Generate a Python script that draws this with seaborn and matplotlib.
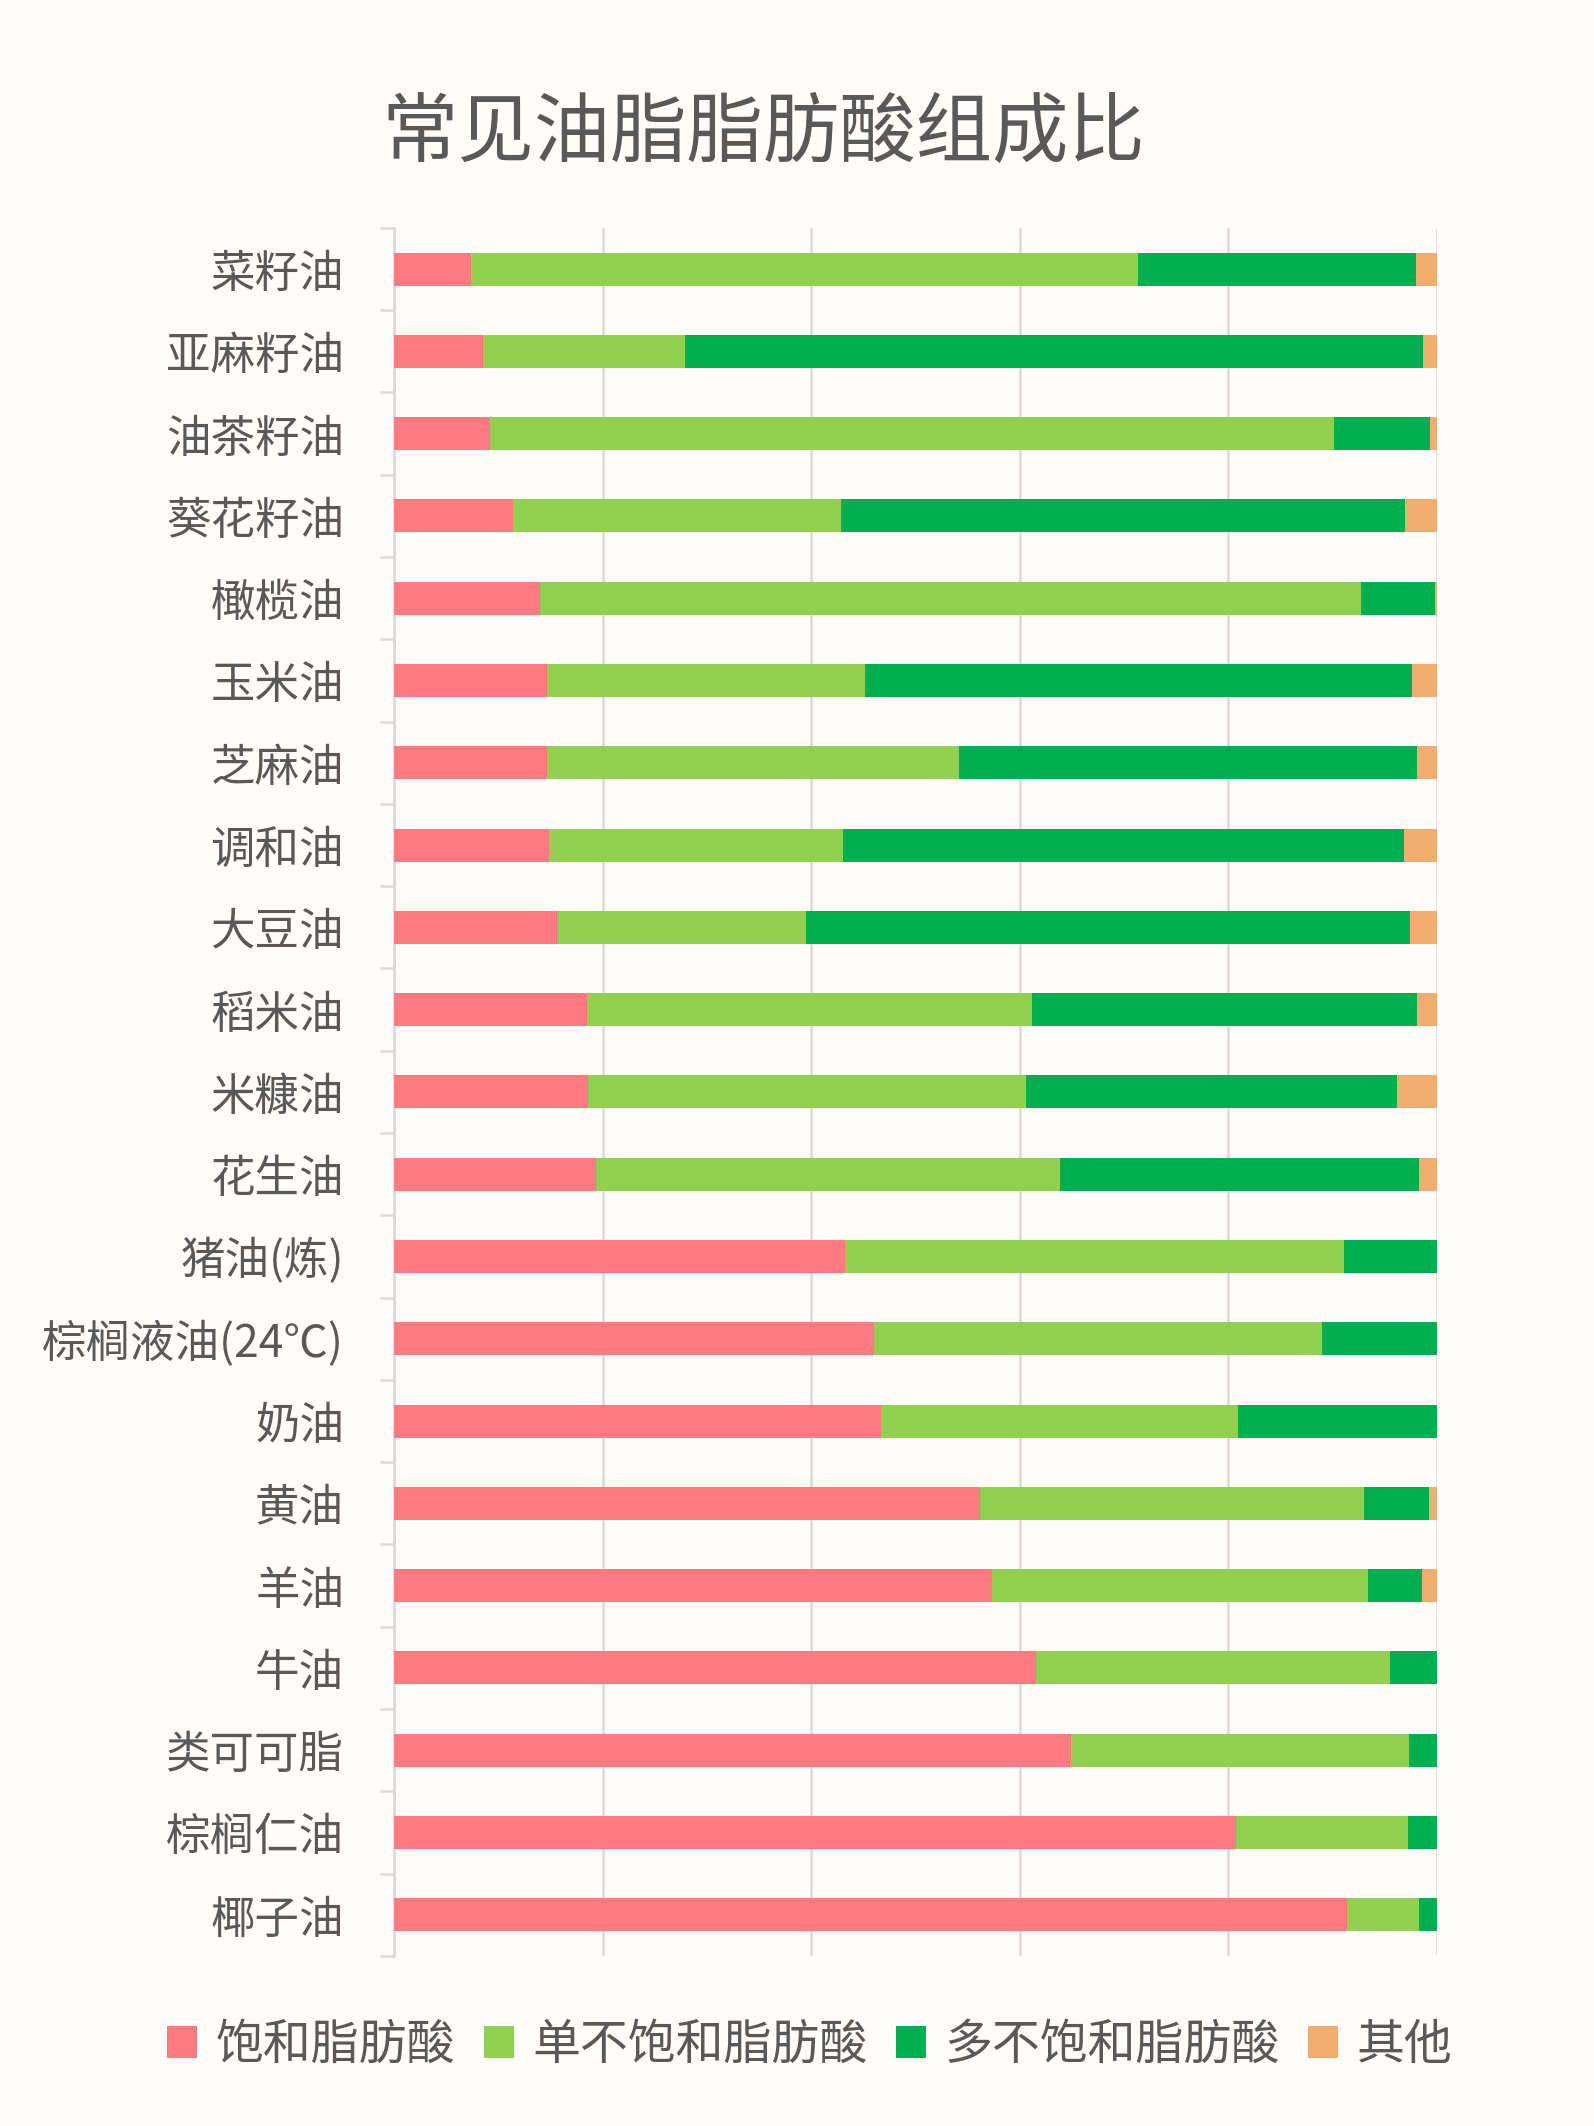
import matplotlib
matplotlib.use("Agg")
import matplotlib.pyplot as plt
from matplotlib.patches import Patch
import seaborn as sns
import pandas as pd
import numpy as np

# data (percent of total fatty acids)
oils = ["菜籽油", "亚麻籽油", "油茶籽油", "葵花籽油", "橄榄油", "玉米油", "芝麻油",
        "调和油", "大豆油", "稻米油", "米糠油", "花生油", "猪油(炼)", "棕榈液油(24℃)",
        "奶油", "黄油", "羊油", "牛油", "类可可脂", "棕榈仁油", "椰子油"]
saturated = [7.4, 8.5, 9.2, 11.4, 14.0, 14.7, 14.7, 14.9, 15.7, 18.5, 18.6, 19.4,
             43.2, 46.0, 46.7, 56.2, 57.3, 61.6, 64.9, 80.7, 91.4]
mono = [63.9, 19.4, 80.9, 31.5, 78.7, 30.5, 39.5, 28.1, 23.8, 42.7, 42.0, 44.5,
        47.9, 43.0, 34.2, 36.8, 36.1, 33.9, 32.4, 16.5, 6.9]
poly = [26.7, 70.8, 9.2, 54.0, 7.1, 52.4, 43.9, 53.8, 57.9, 36.9, 35.6, 34.4,
        8.9, 11.0, 19.1, 6.2, 5.2, 4.5, 2.7, 2.8, 1.7]
other = [2.0, 1.3, 0.7, 3.1, 0.2, 2.4, 1.9, 3.2, 2.6, 1.9, 3.8, 1.7,
         0.0, 0.0, 0.0, 0.8, 1.4, 0.0, 0.0, 0.0, 0.0]
series = ["饱和脂肪酸", "单不饱和脂肪酸", "多不饱和脂肪酸", "其他"]
colors = ["#FF7A81", "#92D050", "#00B050", "#F0AD6E"]

bg = "#FFFCF9"
text_c = "#595959"
grid_c = "#D9D9D9"

df = pd.DataFrame({"oil": oils, "s": saturated, "m": mono, "p": poly, "o": other})
cum = np.cumsum(df[["s", "m", "p", "o"]].values, axis=1)

sns.set_theme(style="white")
plt.rcParams["font.family"] = ["Noto Sans CJK SC", "DejaVu Sans"]

fig = plt.figure(figsize=(15.94, 21.26), dpi=100, facecolor=bg)
ax = fig.add_axes([0.2472, 0.0800, 0.6543, 0.8128])
ax.set_facecolor(bg)

# draw totals first, then smaller cumulative sums on top
for i in range(3, -1, -1):
    sns.barplot(x=cum[:, i], y=df["oil"], orient="h", color=colors[i],
                width=0.4, saturation=1, ax=ax, linewidth=0, zorder=3)

ax.set_xlim(0, 100)
ax.set_ylim(len(oils) - 0.5, -0.5)
ax.set_xticks(np.arange(0, 101, 20))
ax.set_xticklabels([])
ax.tick_params(axis="x", length=0)
ax.grid(axis="x", color=grid_c, linewidth=1.8, zorder=0)
ax.set_axisbelow(True)

for side in ["top", "right", "bottom"]:
    ax.spines[side].set_visible(False)
ax.spines["left"].set_color(grid_c)
ax.spines["left"].set_linewidth(1.8)

ax.set_yticks(np.arange(-0.5, len(oils), 1.0), minor=True)
ax.tick_params(axis="y", which="minor", length=10, width=1.8, color=grid_c, left=True)
ax.tick_params(axis="y", which="major", length=0, pad=36, labelsize=32, labelcolor=text_c)
ax.set_xlabel("")
ax.set_ylabel("")

fig.text(0.479, 0.937, "常见油脂脂肪酸组成比", ha="center", va="center",
         fontsize=55, color=text_c)

handles = [Patch(facecolor=c, edgecolor="none") for c in colors]
leg = fig.legend(handles, series, loc="center", bbox_to_anchor=(0.508, 0.038), ncol=4,
                 frameon=False, fontsize=34.5, handlelength=0.63, handleheight=0.63,
                 handletextpad=0.38, columnspacing=0.6)
for t in leg.get_texts():
    t.set_color(text_c)

fig.savefig("out.png", dpi=100, facecolor=bg)
